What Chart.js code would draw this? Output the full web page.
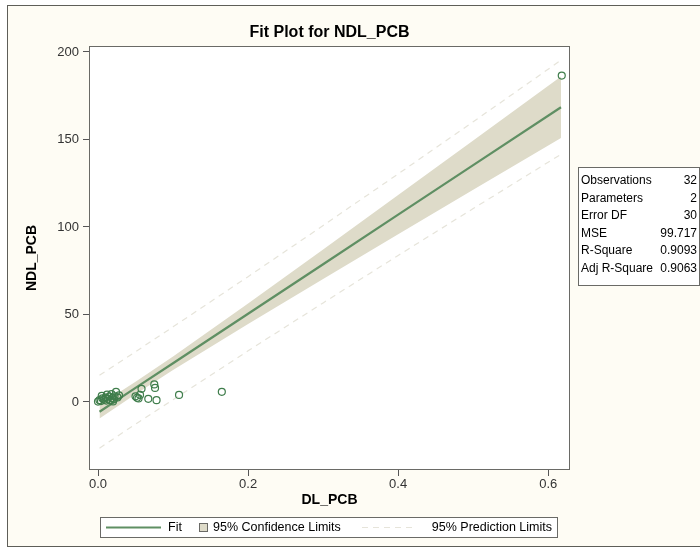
<!DOCTYPE html>
<html>
<head>
<meta charset="utf-8">
<script src="https://cdn.jsdelivr.net/npm/chart.js@4/dist/chart.umd.min.js"></script>
<style>
    html, body { margin: 0; padding: 0; background: #ffffff; }
    canvas { display: block; }
</style>
</head>
<body>
<canvas id="fitChart" width="700" height="547"></canvas>
<script>
// observations
const obsX = [0.000, 0.002, 0.004, 0.005, 0.006, 0.008, 0.010, 0.011, 0.012, 0.013, 0.015,
              0.016, 0.018, 0.019, 0.020, 0.021, 0.022, 0.024, 0.026, 0.028, 0.050, 0.052,
              0.054, 0.056, 0.058, 0.067, 0.075, 0.076, 0.078, 0.108, 0.165, 0.618];
const obsY = [0.2, 1.0, 0.5, 3.5, 2.0, 1.2, 2.5, 0.8, 4.2, 1.8, 3.0,
              1.0, 4.5, 2.2, 0.3, 1.5, 3.2, 5.8, 2.6, 3.8, 3.2, 2.4,
              2.0, 4.0, 7.5, 1.8, 10.0, 8.0, 1.0, 4.0, 5.8, 186.5];

// fit line and limits along DL_PCB
const curveX    = [0.002, 0.05, 0.1, 0.2, 0.3, 0.4, 0.5, 0.617];
const fitY      = [-5.6, 8.0, 22.1, 50.4, 78.7, 107.0, 135.3, 168.4];
const lowerMean = [-9.5, 4.4, 18.2, 44.6, 70.3, 95.8, 121.2, 150.8];
const upperMean = [-1.7, 11.6, 26.0, 56.2, 87.1, 118.2, 149.4, 186.0];
const lowerPred = [-26.4, -12.7, 1.3, 29.2, 56.6, 83.7, 110.5, 141.5];
const upperPred = [15.2, 28.7, 42.9, 71.6, 100.8, 130.3, 160.1, 195.3];

const xTicks = [0, 0.2, 0.4, 0.6];
const yTicks = [0, 50, 100, 150, 200];

const statLabels = ["Observations", "Parameters", "Error DF", "MSE", "R-Square", "Adj R-Square"];
const statValues = ["32", "2", "30", "99.717", "0.9093", "0.9063"];

const legendLabels = ["Fit", "95% Confidence Limits", "95% Prediction Limits"];

const FIT_COLOR = "#5f8f63";
const MARKER_COLOR = "#3f7d4b";
const BAND_COLOR = "#dedbc9";
const PRED_COLOR = "#e6e4da";
const FONT = "'Liberation Sans Narrow', 'Liberation Sans', Arial, sans-serif";
const FONT_WIDE = "'Liberation Sans', Arial, sans-serif";

function pairs(xs, ys) {
    return xs.map((x, i) => ({ x: x, y: ys[i] }));
}

const frame = {
    id: "frame",
    beforeDraw(chart) {
        const ctx = chart.ctx;
        const a = chart.chartArea;
        ctx.save();
        ctx.fillStyle = "#ffffff";
        ctx.fillRect(0, 0, chart.width, chart.height);
        ctx.fillStyle = "#fefcf4";
        ctx.fillRect(7, 5, chart.width - 7, chart.height - 5);
        ctx.strokeStyle = "#5e5e58";
        ctx.lineWidth = 1;
        ctx.strokeRect(7.5, 5.5, chart.width + 10, chart.height - 6);
        ctx.fillStyle = "#ffffff";
        ctx.fillRect(a.left, a.top, a.right - a.left, a.bottom - a.top);
        ctx.restore();
    },
    afterDraw(chart) {
        const ctx = chart.ctx;
        const a = chart.chartArea;
        ctx.save();

        // plot border
        ctx.strokeStyle = "#6a6a66";
        ctx.lineWidth = 1;
        ctx.strokeRect(Math.round(a.left) + 0.5, Math.round(a.top) + 0.5,
                       Math.round(a.right - a.left) - 1, Math.round(a.bottom - a.top) - 1);

        // title
        ctx.fillStyle = "#000000";
        ctx.font = "bold 16px " + FONT;
        ctx.textAlign = "center";
        ctx.textBaseline = "middle";
        ctx.fillText("Fit Plot for NDL_PCB", (a.left + a.right) / 2, 33);

        // fit statistics table
        const tx = 578, ty = 167, tw = 121, rowH = 17.5, th = 118;
        ctx.fillStyle = "#ffffff";
        ctx.fillRect(tx, ty, tw, th);
        ctx.strokeStyle = "#6a6a66";
        ctx.strokeRect(tx + 0.5, ty + 0.5, tw, th);
        ctx.fillStyle = "#000000";
        ctx.font = "12px " + FONT_WIDE;
        statLabels.forEach((label, i) => {
            const y = ty + 14 + i * rowH;
            ctx.textAlign = "left";
            ctx.fillText(label, tx + 3, y);
            ctx.textAlign = "right";
            ctx.fillText(statValues[i], tx + tw - 2, y);
        });

        // legend
        const lx = 100, ly = 517, lw = 457, lh = 20, cy = ly + lh / 2 + 0.5;
        ctx.fillStyle = "#ffffff";
        ctx.fillRect(lx, ly, lw, lh);
        ctx.strokeStyle = "#6a6a66";
        ctx.strokeRect(lx + 0.5, ly + 0.5, lw, lh);

        ctx.strokeStyle = FIT_COLOR;
        ctx.lineWidth = 2;
        ctx.beginPath();
        ctx.moveTo(106, cy);
        ctx.lineTo(161, cy);
        ctx.stroke();

        ctx.fillStyle = BAND_COLOR;
        ctx.fillRect(199.5, cy - 4, 8, 8);
        ctx.strokeStyle = "#6a6a66";
        ctx.lineWidth = 1;
        ctx.strokeRect(199.5, cy - 4, 8, 8);

        ctx.strokeStyle = PRED_COLOR;
        ctx.setLineDash([6, 5]);
        ctx.beginPath();
        ctx.moveTo(362, cy);
        ctx.lineTo(412, cy);
        ctx.stroke();
        ctx.setLineDash([]);

        ctx.fillStyle = "#000000";
        ctx.font = "12.5px " + FONT_WIDE;
        ctx.textAlign = "left";
        ctx.fillText(legendLabels[0], 168, cy);
        ctx.fillText(legendLabels[1], 213, cy);
        ctx.textAlign = "right";
        ctx.fillText(legendLabels[2], 552, cy);

        ctx.restore();
    }
};

new Chart(document.getElementById("fitChart"), {
    type: "scatter",
    data: {
        datasets: [
            {
                label: "NDL_PCB",
                data: pairs(obsX, obsY),
                pointStyle: "circle",
                pointRadius: 3.5,
                pointBorderWidth: 1.2,
                pointBorderColor: MARKER_COLOR,
                pointBackgroundColor: "rgba(0,0,0,0)",
                showLine: false
            },
            {
                label: "Fit",
                data: pairs(curveX, fitY),
                showLine: true,
                borderColor: FIT_COLOR,
                borderWidth: 2.2,
                pointRadius: 0
            },
            {
                label: "Upper 95% prediction",
                data: pairs(curveX, upperPred),
                showLine: true,
                borderColor: PRED_COLOR,
                borderWidth: 1.2,
                borderDash: [6, 5],
                pointRadius: 0
            },
            {
                label: "Lower 95% prediction",
                data: pairs(curveX, lowerPred),
                showLine: true,
                borderColor: PRED_COLOR,
                borderWidth: 1.2,
                borderDash: [6, 5],
                pointRadius: 0
            },
            {
                label: "Lower 95% mean",
                data: pairs(curveX, lowerMean),
                showLine: true,
                borderWidth: 0,
                borderColor: "rgba(0,0,0,0)",
                pointRadius: 0
            },
            {
                label: "Upper 95% mean",
                data: pairs(curveX, upperMean),
                showLine: true,
                borderWidth: 0,
                borderColor: "rgba(0,0,0,0)",
                backgroundColor: BAND_COLOR,
                fill: 4,
                pointRadius: 0
            }
        ]
    },
    options: {
        responsive: false,
        animation: false,
        layout: { padding: { left: 20, top: 46, right: 130, bottom: 34 } },
        plugins: {
            legend: { display: false },
            tooltip: { enabled: false }
        },
        scales: {
            x: {
                type: "linear",
                min: -0.012,
                max: 0.629,
                afterBuildTicks: scale => { scale.ticks = xTicks.map(v => ({ value: v })); },
                afterFit: scale => { scale.height = 43; },
                grid: { drawOnChartArea: false, drawTicks: true, tickLength: 6, color: "#555555" },
                border: { display: false },
                ticks: {
                    padding: 1,
                    color: "#333333",
                    font: { family: FONT, size: 13 },
                    callback: v => v.toFixed(1)
                },
                title: {
                    display: true,
                    text: "DL_PCB",
                    color: "#000000",
                    font: { family: FONT, size: 14, weight: "bold" }
                }
            },
            y: {
                type: "linear",
                min: -38.9,
                max: 203.4,
                afterBuildTicks: scale => { scale.ticks = yTicks.map(v => ({ value: v })); },
                afterFit: scale => { scale.width = 69; },
                grid: { drawOnChartArea: false, drawTicks: true, tickLength: 6, color: "#555555" },
                border: { display: false },
                ticks: {
                    padding: 4,
                    color: "#333333",
                    font: { family: FONT, size: 13 }
                },
                title: {
                    display: true,
                    text: "NDL_PCB",
                    color: "#000000",
                    font: { family: FONT, size: 14, weight: "bold" }
                }
            }
        }
    },
    plugins: [frame]
});
</script>
</body>
</html>
